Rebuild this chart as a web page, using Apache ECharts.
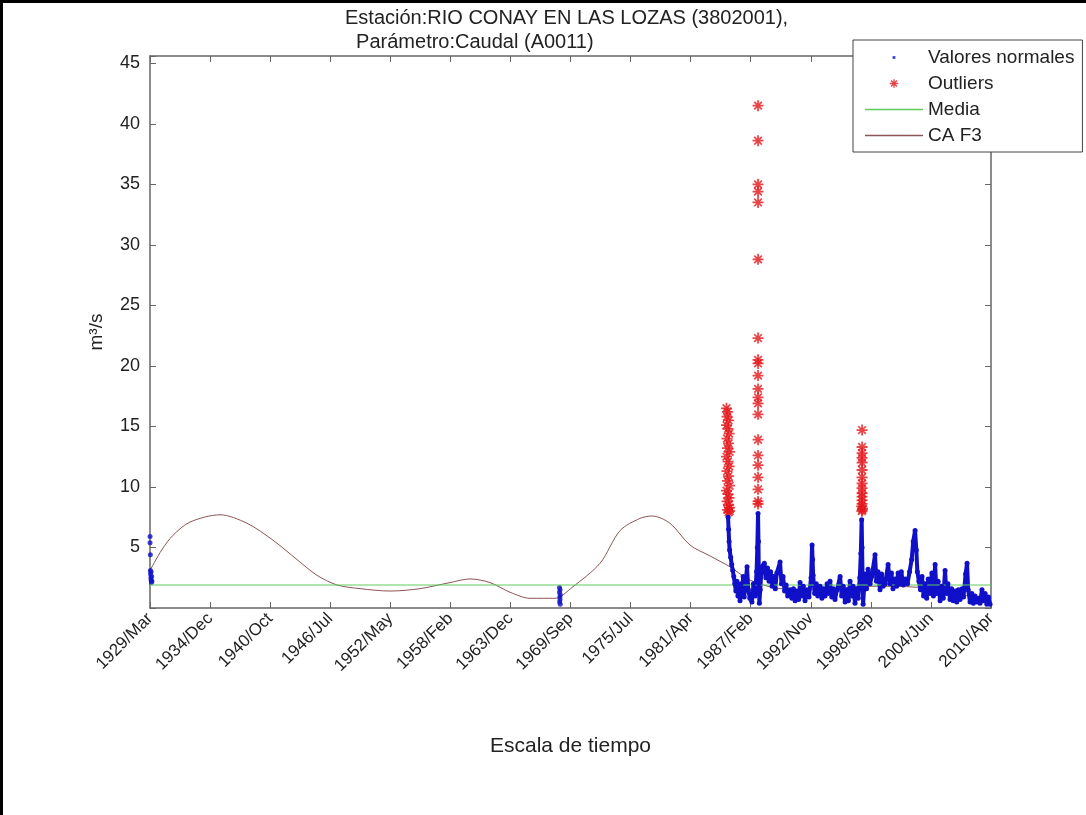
<!DOCTYPE html>
<html>
<head>
<meta charset="utf-8">
<script src="https://cdn.jsdelivr.net/npm/echarts@6/dist/echarts.min.js"></script>
<style>
html, body { margin: 0; padding: 0; background: #fff; }
#chart { width: 1086px; height: 815px; }
</style>
</head>
<body>
<div id="chart"></div>
<script>
// time axis: decimal years, 1929/Mar .. 2010/Apr split in 14 equal steps
var tickLabels = ['1929/Mar', '1934/Dec', '1940/Oct', '1946/Jul', '1952/May', '1958/Feb', '1963/Dec',
    '1969/Sep', '1975/Jul', '1981/Apr', '1987/Feb', '1992/Nov', '1998/Sep', '2004/Jun', '2010/Apr'];
var xStart = 1929 + 2 / 12;
var xEnd = 2010 + 3 / 12;

var mediaValue = 1.9;

// CA F3 curve [year, m3/s]
var caF3 = [
    [1929.17, 3.1], [1930.30, 4.8], [1931.38, 6.0], [1933.02, 7.1], [1935.92, 7.7], [1938.52, 7.0], [1941.03, 5.6],
    [1943.34, 4.0], [1945.27, 2.7], [1947.20, 1.9], [1949.42, 1.6], [1952.31, 1.4], [1955.20, 1.6],
    [1958.09, 2.1], [1960.02, 2.4], [1961.95, 2.1], [1963.88, 1.3], [1965.81, 0.8], [1968.22, 0.8],
    [1969.86, 1.7], [1972.56, 3.7], [1974.49, 6.4], [1976.41, 7.4], [1977.57, 7.6], [1979.30, 7.0],
    [1981.23, 5.2], [1983.16, 4.3], [1985.09, 3.4], [1987.02, 2.3], [1989.91, 1.6], [1993.77, 1.5],
    [1998.59, 1.8], [2003.41, 1.7], [2007.27, 1.1], [2010.16, 0.8]
];

// valores normales
var normal1929 = [
    [1929.17, 5.9], [1929.17, 5.4], [1929.20, 4.4], [1929.20, 3.1], [1929.22, 2.8], [1929.25, 2.5],
    [1929.28, 2.3], [1929.30, 2.1], [1929.33, 2.6], [1929.27, 3.0], [1929.35, 2.2]
];
var normal1969 = [
    [1968.65, 1.7], [1968.70, 1.5], [1968.65, 1.3], [1968.72, 1.1], [1968.68, 0.9], [1968.70, 0.7],
    [1968.66, 0.5], [1968.72, 0.3]
];
var normalMain = [
    [1984.90, 7.5], [1984.95, 6.5], [1985.00, 5.5], [1985.05, 4.8], [1985.15, 4.2], [1985.25, 3.6],
    [1985.35, 3.1], [1985.45, 2.6], [1985.55, 2.0], [1985.65, 1.4], [1985.75, 2.2], [1985.85, 1.0],
    [1985.95, 1.8], [1986.05, 0.6], [1986.15, 2.0], [1986.25, 1.2], [1986.35, 2.6], [1986.45, 0.9],
    [1986.73, 3.4], [1986.85, 1.5], [1987.00, 0.8], [1987.20, 0.5], [1987.35, 2.0], [1987.50, 1.0],
    [1987.65, 3.0], [1987.72, 5.0], [1987.79, 7.8], [1987.83, 5.5], [1987.87, 2.0], [1987.92, 0.4],
    [1988.00, 1.5], [1988.10, 2.8], [1988.25, 3.5], [1988.40, 3.7], [1988.55, 2.5], [1988.70, 3.3],
    [1988.85, 2.2], [1989.00, 3.0], [1989.15, 1.8], [1989.30, 2.6], [1989.45, 1.6], [1989.60, 2.9],
    [1989.91, 3.8], [1990.05, 2.0], [1990.20, 2.6], [1990.35, 1.4], [1990.50, 1.9], [1990.65, 1.0],
    [1990.88, 1.5], [1991.05, 0.8], [1991.20, 1.6], [1991.36, 0.6], [1991.50, 1.4], [1991.70, 0.7],
    [1991.84, 2.1], [1992.00, 1.0], [1992.15, 1.8], [1992.32, 0.6], [1992.50, 1.5], [1992.70, 0.9],
    [1992.90, 2.5], [1993.00, 5.2], [1993.05, 4.0], [1993.10, 2.7], [1993.25, 1.2], [1993.40, 2.0],
    [1993.55, 1.0], [1993.77, 1.8], [1993.95, 0.8], [1994.10, 1.6], [1994.25, 1.0], [1994.45, 2.0],
    [1994.60, 1.2], [1994.73, 2.2], [1994.90, 0.9], [1995.05, 1.6], [1995.21, 0.7], [1995.40, 1.5],
    [1995.70, 2.6], [1995.85, 1.0], [1996.00, 1.8], [1996.18, 0.5], [1996.35, 1.5], [1996.50, 0.6],
    [1996.66, 2.2], [1996.80, 1.0], [1996.95, 1.8], [1997.14, 0.4], [1997.30, 1.6], [1997.45, 0.8],
    [1997.60, 2.5], [1997.70, 4.5], [1997.78, 7.3], [1997.82, 5.0], [1997.87, 2.5], [1997.92, 0.3],
    [1998.00, 1.5], [1998.11, 2.8], [1998.25, 1.6], [1998.40, 3.2], [1998.59, 2.0], [1998.75, 2.6],
    [1999.07, 4.4], [1999.20, 2.2], [1999.35, 3.0], [1999.55, 1.5], [1999.70, 2.8], [1999.85, 1.8],
    [2000.04, 2.0], [2000.33, 3.6], [2000.50, 2.0], [2000.65, 2.9], [2000.80, 1.6], [2001.00, 2.4],
    [2001.15, 1.8], [2001.29, 2.9], [2001.45, 2.0], [2001.60, 3.0], [2001.80, 1.9], [2002.00, 2.4],
    [2002.20, 2.0], [2002.40, 3.0], [2002.60, 4.0], [2002.75, 5.5], [2002.93, 6.4], [2003.05, 4.8],
    [2003.15, 3.0], [2003.30, 2.2], [2003.45, 1.5], [2003.60, 2.6], [2003.75, 1.0], [2003.89, 2.0],
    [2004.05, 0.8], [2004.20, 2.4], [2004.37, 1.2], [2004.55, 2.9], [2004.70, 1.0], [2004.86, 3.6],
    [2005.00, 1.2], [2005.15, 2.2], [2005.34, 0.6], [2005.50, 1.8], [2005.65, 0.8], [2005.82, 3.1],
    [2005.95, 1.2], [2006.10, 2.0], [2006.30, 0.7], [2006.45, 1.6], [2006.60, 0.6], [2006.79, 1.4],
    [2006.95, 0.5], [2007.10, 1.5], [2007.27, 0.7], [2007.45, 1.6], [2007.60, 0.9], [2007.80, 2.8],
    [2007.94, 3.7], [2008.05, 1.5], [2008.23, 0.5], [2008.40, 1.2], [2008.55, 0.4], [2008.71, 1.0],
    [2008.90, 0.5], [2009.05, 0.8], [2009.19, 0.4], [2009.38, 1.5], [2009.50, 0.6], [2009.68, 1.2],
    [2009.85, 0.3], [2010.00, 0.9], [2010.16, 0.3]
];

// outliers
var outliers1985 = [
    [1984.75, 16.5], [1984.85, 16.2], [1984.80, 15.8], [1984.95, 15.5], [1984.75, 15.1], [1984.90, 14.8],
    [1985.00, 14.4], [1984.80, 14.0], [1984.95, 13.6], [1984.85, 13.2], [1985.05, 12.9], [1984.75, 12.5],
    [1984.90, 12.1], [1985.00, 11.7], [1984.80, 11.3], [1984.95, 10.9], [1984.85, 10.5], [1985.05, 10.1],
    [1984.75, 9.7], [1984.90, 9.4], [1985.00, 9.1], [1984.80, 8.8], [1984.95, 8.5], [1985.05, 8.3],
    [1984.85, 8.1], [1984.95, 7.9], [1985.05, 8.0]
];
var outliers1987 = [
    [1987.79, 41.5], [1987.79, 38.6], [1987.79, 35.0], [1987.79, 34.4], [1987.79, 33.5], [1987.79, 28.8],
    [1987.79, 22.3], [1987.79, 20.5], [1987.79, 20.2], [1987.79, 19.2], [1987.79, 18.1], [1987.79, 17.4],
    [1987.79, 16.9], [1987.79, 16.0], [1987.79, 13.9], [1987.79, 12.6], [1987.79, 11.8], [1987.79, 10.8],
    [1987.79, 9.8], [1987.79, 8.8], [1987.79, 8.6]
];
var outliers1997 = [
    [1997.82, 14.7], [1997.82, 13.3], [1997.82, 12.8], [1997.82, 12.4], [1997.82, 12.0], [1997.82, 11.4],
    [1997.82, 10.8], [1997.82, 10.3], [1997.82, 9.9], [1997.82, 9.5], [1997.82, 9.2], [1997.82, 8.9],
    [1997.82, 8.6], [1997.78, 8.4], [1997.86, 8.2], [1997.80, 8.0], [1997.84, 8.1]
];

var STEP = (xEnd - xStart) / 14;
function shift(pairs) {
    return pairs.map(function (p) { return [p[0] - xStart, p[1]]; });
}

var asterisk = 'path://M0 4.2L10 4.2L10 5.8L0 5.8Z M4.2 0L5.8 0L5.8 10L4.2 10Z M1 2.1L2.1 1L9 7.9L7.9 9Z M7.9 1L9 2.1L2.1 9L1 7.9Z';
var asteriskIcon = 'path://M-2 -2M12 12M0 4.2L10 4.2L10 5.8L0 5.8Z M4.2 0L5.8 0L5.8 10L4.2 10Z M1 2.1L2.1 1L9 7.9L7.9 9Z M7.9 1L9 2.1L2.1 9L1 7.9Z';
var dotIcon = 'path://M0 0M12 12M4.6 4.6L7.4 4.6L7.4 7.4L4.6 7.4Z';
var lineIcon = 'path://M0 0M60 12M0 5.3L60 5.3L60 6.7L0 6.7Z';

var blue = '#1010c8';
var red = '#e3161c';
var green = '#5ccc5c';
var brown = '#8d5555';
var font = 'Liberation Sans';
var axisColor = '#666';

var chart = echarts.init(document.getElementById('chart'));

var xCommon = {
    type: 'value',
    min: 0,
    max: 14 * STEP,
    interval: STEP,
    splitLine: { show: false },
    axisLine: { show: true, onZero: false, lineStyle: { color: axisColor, width: 1.5 } },
    axisTick: { show: true, inside: true, length: 6, lineStyle: { color: axisColor } }
};
var yCommon = {
    type: 'value',
    min: 0,
    max: 45.6,
    interval: 5,
    splitLine: { show: false },
    axisLine: { show: true, onZero: false, lineStyle: { color: axisColor, width: 1.5 } },
    axisTick: { show: true, inside: true, length: 6, lineStyle: { color: axisColor } }
};

var option = {
    backgroundColor: '#fff',
    animation: false,
    textStyle: { fontFamily: font },
    title: {
        text: 'Estación:RIO CONAY EN LAS LOZAS (3802001),\n  Parámetro:Caudal (A0011)',
        left: 345,
        top: 6,
        padding: 0,
        textStyle: { fontSize: 20, fontWeight: 'normal', color: '#222', lineHeight: 24, fontFamily: font }
    },
    legend: {
        orient: 'vertical',
        left: 853,
        top: 40,
        padding: [8, 8, 7, 12],
        itemWidth: 58,
        itemHeight: 12,
        itemGap: 7,
        borderColor: '#444',
        borderWidth: 1,
        backgroundColor: '#fff',
        selectedMode: false,
        textStyle: { fontSize: 19, color: '#222', fontFamily: font },
        data: [
            { name: 'Valores normales', icon: dotIcon },
            { name: 'Outliers', icon: asteriskIcon },
            { name: 'Media', icon: lineIcon, itemStyle: { color: green } },
            { name: 'CA F3', icon: lineIcon, itemStyle: { color: brown } }
        ]
    },
    grid: { left: 150, right: 95, top: 56, bottom: 207, outerBoundsMode: 'none', containLabel: false },
    xAxis: [
        Object.assign({}, xCommon, {
            position: 'bottom',
            name: 'Escala de tiempo',
            nameLocation: 'middle',
            nameGap: 128,
            nameTextStyle: { fontSize: 21, color: '#222', fontFamily: font },
            axisLabel: {
                rotate: 45,
                fontSize: 17,
                color: '#222',
                margin: 8,
                formatter: function (v) {
                    var i = Math.round(v / STEP);
                    return Math.abs(v - i * STEP) < 1e-6 ? tickLabels[i] : '';
                }
            }
        }),
        Object.assign({}, xCommon, { position: 'top', axisLabel: { show: false } })
    ],
    yAxis: [
        Object.assign({}, yCommon, {
            position: 'left',
            name: 'm³/s',
            nameLocation: 'middle',
            nameGap: 44,
            nameTextStyle: { fontSize: 19, color: '#222', fontFamily: font },
            axisLabel: {
                fontSize: 18,
                color: '#222',
                margin: 10,
                formatter: function (v) {
                    return (v > 0 && v <= 45 && v % 5 === 0) ? String(v) : '';
                }
            }
        }),
        Object.assign({}, yCommon, { position: 'right', axisLabel: { show: false } })
    ],
    series: [
        {
            name: 'CA F3',
            type: 'line',
            smooth: 0.3,
            symbol: 'none',
            color: brown,
            itemStyle: { color: brown },
            lineStyle: { color: brown, width: 1 },
            data: shift(caF3),
            z: 1
        },
        {
            name: 'Valores normales',
            type: 'scatter',
            symbol: 'circle',
            symbolSize: 5,
            color: blue,
            data: shift(normal1929)
        },
        {
            name: 'Valores normales',
            type: 'scatter',
            symbol: 'circle',
            symbolSize: 5,
            color: blue,
            data: shift(normal1969)
        },
        {
            name: 'Valores normales',
            type: 'line',
            symbol: 'circle',
            symbolSize: 5,
            showSymbol: true,
            color: blue,
            lineStyle: { color: blue, width: 4 },
            data: shift(normalMain)
        },
        {
            name: 'Outliers',
            type: 'scatter',
            symbol: asterisk,
            symbolSize: 11,
            color: red,
            data: shift(outliers1985).concat(shift(outliers1987), shift(outliers1997))
        },
        {
            name: 'Media',
            type: 'line',
            symbol: 'none',
            color: green,
            itemStyle: { color: green },
            lineStyle: { color: green, width: 1 },
            data: [[0, mediaValue], [14 * STEP, mediaValue]]
        }
    ],
    graphic: [
        { type: 'rect', left: 0, top: 0, shape: { width: 1086, height: 3 }, style: { fill: '#000' } },
        { type: 'rect', left: 0, top: 0, shape: { width: 3, height: 815 }, style: { fill: '#000' } }
    ]
};

chart.setOption(option);
</script>
</body>
</html>
